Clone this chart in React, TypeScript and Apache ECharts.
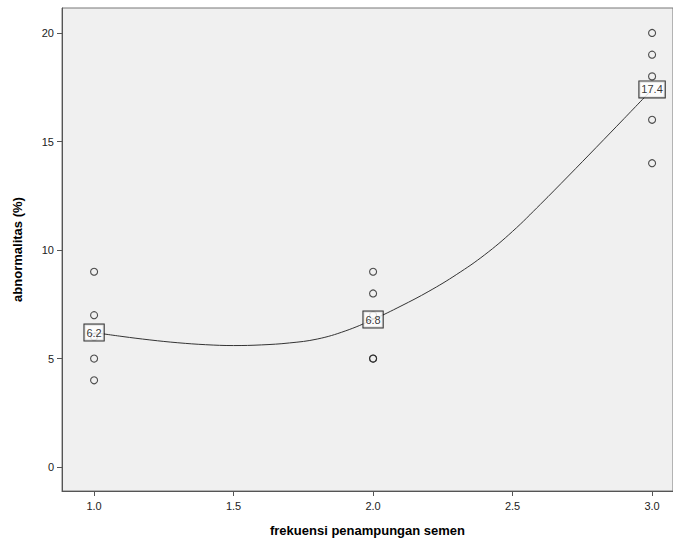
import React, { useEffect, useRef } from "react";
import * as echarts from "echarts";

const xGroup1 = [1, 1, 1, 1, 1];
const yGroup1 = [9, 7, 6, 5, 4];
const xGroup2 = [2, 2, 2, 2, 2];
const yGroup2 = [9, 8, 7, 5, 5];
const xGroup3 = [3, 3, 3, 3, 3];
const yGroup3 = [20, 19, 18, 16, 14];

const meanX = [1, 2, 3];
const meanY = [6.2, 6.8, 17.4];

const curveX = [1.0, 1.1, 1.2, 1.3, 1.4, 1.5, 1.6, 1.7, 1.8, 1.9, 2.0, 2.1, 2.2, 2.3, 2.4, 2.5, 2.6, 2.7, 2.8, 2.9, 3.0];
const curveY = [6.2, 6.02, 5.86, 5.73, 5.64, 5.6, 5.63, 5.72, 5.9, 6.27, 6.8, 7.42, 8.1, 8.88, 9.78, 10.86, 12.11, 13.41, 14.73, 16.06, 17.4];

const xTicks = [1.0, 1.5, 2.0, 2.5, 3.0];
const yTicks = [0, 5, 10, 15, 20];

const xTitle = "frekuensi penampungan semen";
const yTitle = "abnormalitas (%)";

export default function App() {
  const ref = useRef<HTMLDivElement>(null);
  useEffect(() => {
    if (!ref.current) return;
    const chart = echarts.init(ref.current, undefined, { renderer: "svg" });
    const points = [
      ...xGroup1.map((x, i) => [x, yGroup1[i]]),
      ...xGroup2.map((x, i) => [x, yGroup2[i]]),
      ...xGroup3.map((x, i) => [x, yGroup3[i]]),
    ];
    const font = "Arial, 'Liberation Sans', sans-serif";
    chart.setOption({
      animation: false,
      textStyle: { fontFamily: font },
      grid: {
        left: 62,
        top: 8,
        right: -3,
        bottom: 52,
        show: true,
        backgroundColor: "#F0F0F0",
        borderColor: "#777777",
        borderWidth: 1,
      },
      xAxis: {
        type: "value",
        min: 0.885,
        max: 3.075,
        name: xTitle,
        nameLocation: "middle",
        nameGap: 33,
        nameTextStyle: { fontSize: 13, fontWeight: "bold", color: "#000", fontFamily: font },
        axisLine: { show: true, onZero: false, lineStyle: { color: "#555", width: 1 } },
        axisTick: { show: true, length: 5, lineStyle: { color: "#555" }, customValues: xTicks },
        axisLabel: {
          margin: 9,
          fontSize: 11,
          color: "#222",
          customValues: xTicks,
          formatter: (v: number) => v.toFixed(1),
        },
        splitLine: { show: false },
      },
      yAxis: {
        type: "value",
        min: -1.1,
        max: 21.15,
        name: yTitle,
        nameLocation: "middle",
        nameGap: 38,
        nameTextStyle: { fontSize: 13, fontWeight: "bold", color: "#000", fontFamily: font },
        axisLine: { show: true, onZero: false, lineStyle: { color: "#555", width: 1 } },
        axisTick: { show: true, length: 5, lineStyle: { color: "#555" }, customValues: yTicks },
        axisLabel: {
          margin: 8,
          fontSize: 11,
          color: "#222",
          customValues: yTicks,
        },
        splitLine: { show: false },
      },
      series: [
        {
          type: "line",
          data: curveX.map((x, i) => [x, curveY[i]]),
          smooth: 0.4,
          showSymbol: false,
          lineStyle: { color: "#333", width: 1 },
          z: 2,
        },
        {
          type: "scatter",
          data: points,
          symbol: "circle",
          symbolSize: 7,
          itemStyle: { color: "transparent", borderColor: "#222", borderWidth: 1.1 },
          z: 3,
        },
        {
          type: "scatter",
          data: meanX.map((x, i) => [x, meanY[i]]),
          symbolSize: 0,
          z: 5,
          label: {
            show: true,
            position: "inside",
            formatter: (p: any) => String(p.value[1]),
            fontSize: 11,
            color: "#000",
            backgroundColor: "#fff",
            borderColor: "#000",
            borderWidth: 1,
            padding: [3, 2, 2, 2],
          },
        },
      ],
    });
    return () => chart.dispose();
  }, []);
  return (
    <div
      ref={ref}
      style={{ position: "absolute", left: 0, top: 0, width: 673, height: 543 }}
    />
  );
}
